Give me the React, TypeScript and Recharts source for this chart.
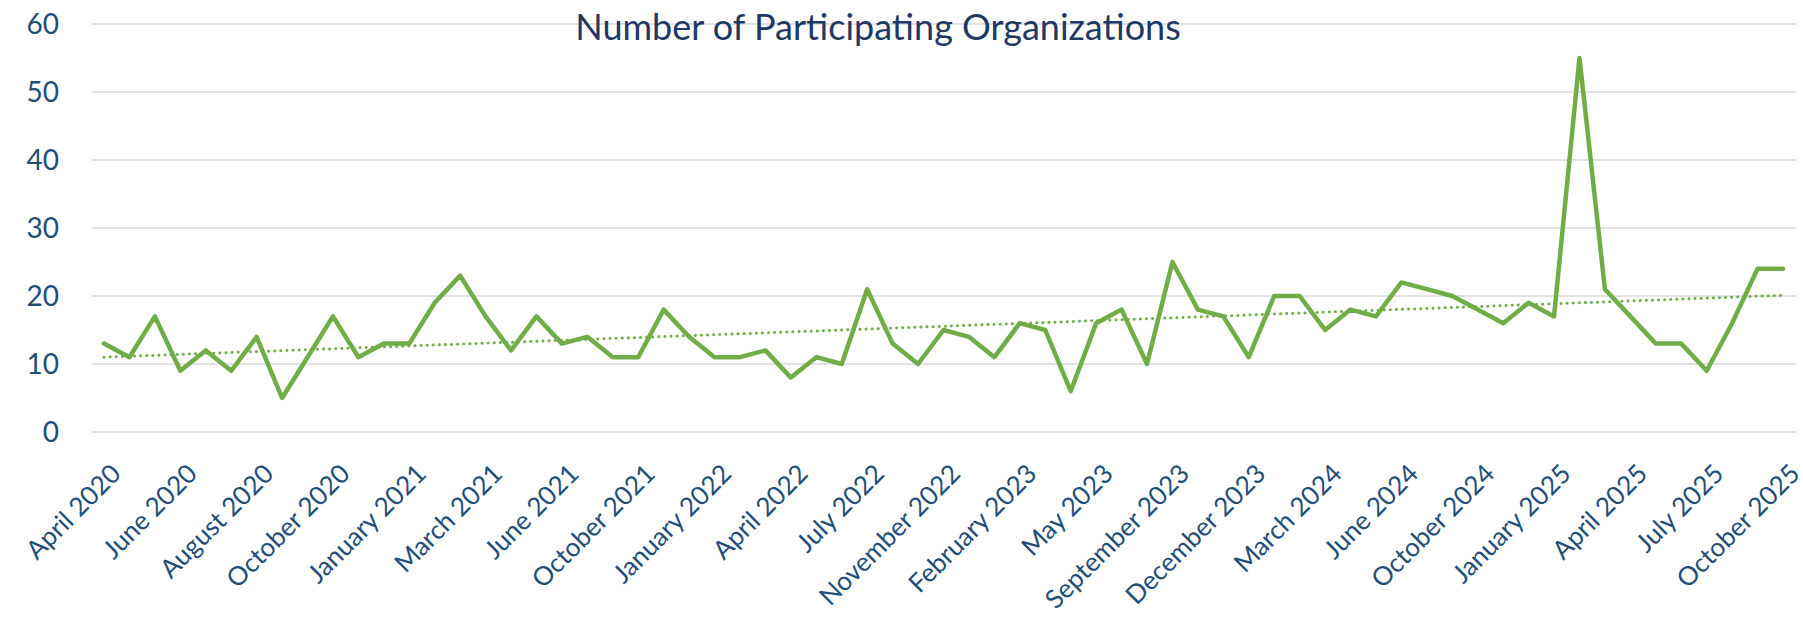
import React from 'react';
import { LineChart, Line, XAxis, YAxis, CartesianGrid } from 'recharts';

const months = [
  'April 2020', 'May 2020', 'May 2020', 'June 2020', 'July 2020', 'July 2020',
  'August 2020', 'September 2020', 'September 2020', 'October 2020', 'November 2020', 'December 2020',
  'January 2021', 'February 2021', 'February 2021', 'March 2021', 'April 2021', 'May 2021',
  'June 2021', 'August 2021', 'September 2021', 'October 2021', 'November 2021', 'December 2021',
  'January 2022', 'February 2022', 'March 2022', 'April 2022', 'May 2022', 'June 2022',
  'July 2022', 'August 2022', 'September 2022', 'November 2022', 'December 2022', 'January 2023',
  'February 2023', 'March 2023', 'April 2023', 'May 2023', 'June 2023', 'August 2023',
  'September 2023', 'October 2023', 'November 2023', 'December 2023', 'January 2024', 'February 2024',
  'March 2024', 'April 2024', 'May 2024', 'June 2024', 'July 2024', 'September 2024',
  'October 2024', 'November 2024', 'December 2024', 'January 2025', 'February 2025', 'March 2025',
  'April 2025', 'May 2025', 'June 2025', 'July 2025', 'August 2025', 'September 2025',
  'October 2025',
];

const organizations = [
  13, 11, 17, 9, 12, 9, 14, 5, 11, 17, 11, 13, 13, 19, 23, 17, 12, 17, 13, 14, 11,
  11, 18, 14, 11, 11, 12, 8, 11, 10, 21, 13, 10, 15, 14, 11, 16, 15, 6, 16, 18, 10, 25, 18,
  17, 11, 20, 20, 15, 18, 17, 22, 21, 20, 18, 16, 19, 17, 55, 21, 17, 13, 13, 9, 16, 24, 24,
];

// linear trendline ends
const trendStart = 11;
const trendEnd = 20.1;

const yTicks = [0, 10, 20, 30, 40, 50, 60];

const data = months.map((m, i) => ({
  idx: i,
  month: m,
  organizations: organizations[i],
  trend: i === 0 ? trendStart : i === months.length - 1 ? trendEnd : null,
}));

const FONT = 'Lato, "Open Sans", sans-serif';
const GREEN = '#70AD47';

const MonthTick = (props: any) => {
  const { x, y, payload } = props;
  return (
    <text
      transform={`translate(${x + 12},${y + 37}) rotate(-45)`}
      textAnchor="end"
      dy="0.35em"
      fill="#1F4E79"
      fontSize={26}
      fontFamily={FONT}
    >
      {months[payload.value]}
    </text>
  );
};

export default function App() {
  return (
    <div style={{ position: 'relative', width: 1803, height: 618, background: '#fff' }}>
      <style>{'body{margin:0}'}</style>
      <LineChart
        width={1803}
        height={618}
        data={data}
        margin={{ top: 24, right: 7, left: 0, bottom: 0 }}
      >
        <CartesianGrid vertical={false} stroke="#d9d9d9" strokeWidth={1.5} />
        <XAxis
          dataKey="idx"
          type="category"
          scale="point"
          padding={{ left: 12, right: 13 }}
          interval={2}
          height={186}
          axisLine={false}
          tickLine={false}
          tickSize={0}
          tickMargin={0}
          tick={<MonthTick />}
        />
        <YAxis
          domain={[0, 60]}
          ticks={yTicks}
          width={92}
          axisLine={false}
          tickLine={false}
          tickSize={0}
          tickMargin={33}
          tick={{ fill: '#1F4E79', fontSize: 28, fontFamily: FONT }}
        />
        <Line
          dataKey="organizations"
          stroke={GREEN}
          strokeWidth={4.5}
          dot={false}
          strokeLinejoin="round"
          strokeLinecap="round"
          isAnimationActive={false}
        />
        <Line
          dataKey="trend"
          stroke={GREEN}
          strokeWidth={3}
          strokeDasharray="0.1 6"
          strokeLinecap="round"
          dot={false}
          connectNulls
          isAnimationActive={false}
        />
      </LineChart>
      <svg
        width={1803}
        height={618}
        style={{ position: 'absolute', left: 0, top: 0, pointerEvents: 'none' }}
      >
        <text x={878} y={40} textAnchor="middle" fill="#1F3864" fontSize={36} fontFamily={FONT}>
          Number of Participating Organizations
        </text>
      </svg>
    </div>
  );
}
